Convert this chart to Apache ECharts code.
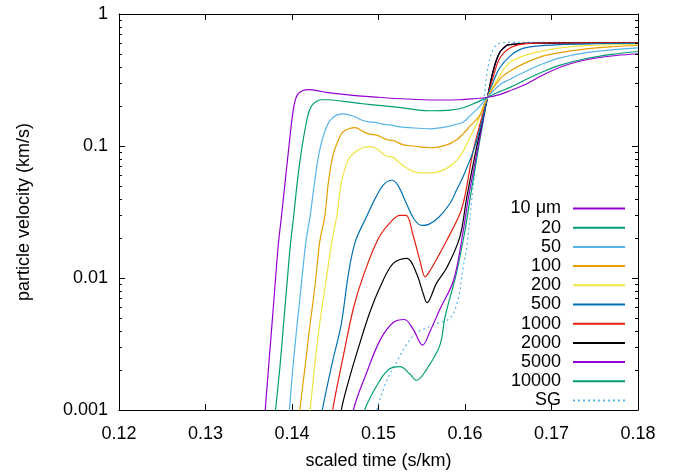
<!DOCTYPE html>
<html>
<head>
<meta charset="utf-8">
<script src="https://cdn.jsdelivr.net/npm/echarts@6/dist/echarts.min.js"></script>
<style>html,body{margin:0;padding:0;background:#fff;}#c{width:699px;height:475px;}</style>
</head>
<body>
<div id="c"></div>
<script>
// ---- data: [scaled time (s/km), particle velocity (km/s)] ----
const names = ['10 \u03bcm', '20', '50', '100', '200', '500', '1000', '2000', '5000', '10000', 'SG'];
const colors = ['#9400d3', '#009e73', '#56b4e9', '#e69f00', '#f0e442', '#0072b2', '#e51e10', '#000000', '#9400d3', '#009e73', '#56b4e9'];

const d10 = [[0.1364,0.0004],[0.1369,0.001],[0.1374,0.0026],[0.1379,0.0067],[0.1384,0.0174],[0.1388,0.030],[0.1392,0.053],[0.1396,0.093],[0.1400,0.160],[0.1403,0.212],[0.1406,0.243],[0.1410,0.258],[0.1415,0.266],[0.1420,0.267],[0.1430,0.262],[0.1440,0.255],[0.1460,0.246],[0.1480,0.239],[0.1500,0.234],[0.1520,0.229],[0.1544,0.225],[0.1570,0.223],[0.1594,0.224],[0.1610,0.228],[0.1626,0.234],[0.1640,0.245],[0.1652,0.262],[0.1671,0.295],[0.1690,0.345],[0.1710,0.395],[0.1730,0.435],[0.1750,0.462],[0.1775,0.485],[0.1800,0.500]];
const d20 = [[0.1377,0.0005],[0.1381,0.001],[0.1386,0.0021],[0.1390,0.0043],[0.1394,0.0087],[0.1398,0.0175],[0.1402,0.0296],[0.1406,0.0526],[0.1411,0.093],[0.1417,0.156],[0.1420,0.185],[0.1423,0.203],[0.1428,0.217],[0.1433,0.224],[0.1440,0.224],[0.1459,0.218],[0.1482,0.209],[0.1500,0.203],[0.1521,0.197],[0.1544,0.188],[0.1560,0.185],[0.1583,0.187],[0.1598,0.195],[0.1612,0.212],[0.1626,0.234],[0.1640,0.258],[0.1652,0.278],[0.1671,0.320],[0.1690,0.365],[0.1710,0.410],[0.1740,0.460],[0.1770,0.495],[0.1800,0.520]];
const d50 = [[0.1393,0.0005],[0.1397,0.001],[0.1401,0.0021],[0.1406,0.0045],[0.1411,0.0092],[0.1416,0.0187],[0.1421,0.0296],[0.1426,0.0526],[0.1432,0.093],[0.1440,0.140],[0.1448,0.166],[0.1459,0.175],[0.1471,0.168],[0.1482,0.156],[0.1490,0.152],[0.1496,0.151],[0.1502,0.148],[0.1509,0.145],[0.1515,0.144],[0.1521,0.141],[0.1540,0.137],[0.1560,0.135],[0.1579,0.140],[0.1598,0.152],[0.1606,0.170],[0.1614,0.190],[0.1626,0.234],[0.1640,0.290],[0.1652,0.320],[0.1671,0.370],[0.1690,0.420],[0.1710,0.465],[0.1740,0.510],[0.1770,0.535],[0.1800,0.553]];
const d100 = [[0.1404,0.0005],[0.1409,0.001],[0.1415,0.0021],[0.1421,0.0045],[0.1427,0.0092],[0.1432,0.0187],[0.1438,0.0296],[0.1442,0.0526],[0.1447,0.083],[0.1452,0.105],[0.1459,0.128],[0.1467,0.136],[0.1473,0.138],[0.1482,0.129],[0.1490,0.123],[0.1498,0.121],[0.1509,0.112],[0.1517,0.110],[0.1529,0.102],[0.1540,0.100],[0.1560,0.097],[0.1579,0.102],[0.1590,0.111],[0.1598,0.124],[0.1606,0.142],[0.1617,0.170],[0.1626,0.234],[0.1640,0.320],[0.1652,0.370],[0.1671,0.430],[0.1690,0.480],[0.1710,0.510],[0.1740,0.545],[0.1770,0.565],[0.1800,0.577]];
const d200 = [[0.1416,0.0005],[0.1421,0.001],[0.1426,0.0021],[0.1432,0.0045],[0.1439,0.0092],[0.1446,0.0187],[0.1452,0.030],[0.1457,0.0526],[0.1465,0.0785],[0.1472,0.089],[0.1482,0.097],[0.1490,0.099],[0.1496,0.097],[0.1502,0.091],[0.1509,0.084],[0.1517,0.082],[0.1525,0.074],[0.1536,0.066],[0.1548,0.0625],[0.1560,0.0625],[0.1579,0.068],[0.1594,0.083],[0.1606,0.117],[0.1614,0.150],[0.1626,0.234],[0.1640,0.340],[0.1652,0.430],[0.1671,0.490],[0.1690,0.525],[0.1710,0.553],[0.1740,0.575],[0.1800,0.590]];
const d500 = [[0.1429,0.0006],[0.1435,0.001],[0.1446,0.0022],[0.1457,0.0045],[0.1465,0.0105],[0.1473,0.0187],[0.1486,0.029],[0.1497,0.041],[0.1506,0.051],[0.1515,0.055],[0.1522,0.051],[0.1532,0.037],[0.1541,0.028],[0.1550,0.025],[0.1558,0.0255],[0.1570,0.029],[0.1583,0.037],[0.1590,0.046],[0.1598,0.059],[0.1610,0.093],[0.1621,0.166],[0.1626,0.234],[0.1633,0.310],[0.1640,0.390],[0.1652,0.480],[0.1664,0.540],[0.1680,0.568],[0.1710,0.586],[0.1750,0.595],[0.1800,0.600]];
const d1000 = [[0.1441,0.0005],[0.1447,0.001],[0.1459,0.0025],[0.1471,0.0059],[0.1482,0.0102],[0.1500,0.020],[0.1515,0.027],[0.1525,0.0298],[0.1532,0.0298],[0.1540,0.021],[0.1548,0.0135],[0.1554,0.0102],[0.1560,0.0115],[0.1570,0.015],[0.1579,0.0193],[0.1594,0.0305],[0.1600,0.042],[0.1610,0.095],[0.1626,0.234],[0.1633,0.340],[0.1640,0.460],[0.1652,0.553],[0.1671,0.596],[0.1700,0.603],[0.1800,0.605]];
const d2000 = [[0.1451,0.0005],[0.1457,0.001],[0.1468,0.0019],[0.1479,0.0033],[0.1490,0.0055],[0.1502,0.0086],[0.1517,0.0129],[0.1533,0.0141],[0.1544,0.0108],[0.1552,0.0075],[0.1556,0.0065],[0.1567,0.0091],[0.1579,0.012],[0.1594,0.0204],[0.1602,0.0406],[0.1613,0.095],[0.1626,0.234],[0.1633,0.380],[0.1640,0.510],[0.1648,0.577],[0.1652,0.586],[0.1670,0.600],[0.1800,0.605]];
const d5000 = [[0.1465,0.0005],[0.1471,0.001],[0.1486,0.0019],[0.1502,0.0034],[0.1517,0.0046],[0.1530,0.00485],[0.1540,0.0041],[0.1551,0.0031],[0.1560,0.0040],[0.1571,0.0058],[0.1587,0.0097],[0.1598,0.0229],[0.1604,0.0406],[0.1615,0.098],[0.1626,0.234],[0.1633,0.380],[0.1640,0.510],[0.1648,0.577],[0.1652,0.586],[0.1670,0.600],[0.1800,0.605]];
const d10000 = [[0.1478,0.0006],[0.1484,0.001],[0.1501,0.00165],[0.1513,0.00205],[0.1525,0.00213],[0.1536,0.00188],[0.1544,0.00168],[0.1556,0.00205],[0.1571,0.0031],[0.1577,0.0051],[0.1590,0.0108],[0.1600,0.0229],[0.1606,0.0406],[0.1616,0.100],[0.1626,0.234],[0.1633,0.380],[0.1640,0.510],[0.1648,0.577],[0.1652,0.586],[0.1670,0.600],[0.1800,0.605]];
const dSG = [[0.1492,0.0006],[0.1498,0.001],[0.1510,0.0017],[0.1521,0.0023],[0.1532,0.0031],[0.1544,0.00385],[0.1556,0.0042],[0.1567,0.0045],[0.1583,0.0050],[0.1592,0.0069],[0.1598,0.0122],[0.1602,0.0171],[0.1608,0.040],[0.1612,0.070],[0.1617,0.130],[0.1621,0.200],[0.1625,0.340],[0.1631,0.510],[0.1640,0.600],[0.1660,0.610],[0.1800,0.610]];

const seriesData = [d10, d20, d50, d100, d200, d500, d1000, d2000, d5000, d10000, dSG];
const xTicks = [0.12, 0.13, 0.14, 0.15, 0.16, 0.17, 0.18];
const yTickLabels = {'0.001': '0.001', '0.01': '0.01', '0.1': '0.1', '1': '1'};
// log-axis minor tick positions (2..9 x each decade)
const yMinorTicks = [0.002,0.003,0.004,0.005,0.006,0.007,0.008,0.009,
                     0.02,0.03,0.04,0.05,0.06,0.07,0.08,0.09,
                     0.2,0.3,0.4,0.5,0.6,0.7,0.8,0.9];

const FONT = 'Liberation Sans, Arial, sans-serif';
const FS = 18;
const chart = echarts.init(document.getElementById('c'), null, {renderer: 'canvas'});

const series = seriesData.map((d, i) => ({
  name: names[i],
  type: 'line',
  data: d,
  symbol: 'none',
  showSymbol: false,
  smooth: 0.35,
  clip: true,
  lineStyle: {color: colors[i], width: 1.2, type: i === 10 ? [2, 3] : 'solid'},
  itemStyle: {color: colors[i]},
  z: 2 + (10 - i)
}));

// minor ticks on the left and right borders, placed through the log axis
series.push({
  type: 'custom',
  name: 'minorTicks',
  silent: true,
  z: 20,
  data: yMinorTicks.map(v => [xTicks[0], v]),
  renderItem: function (params, api) {
    const v = api.value(1);
    const pL = api.coord([xTicks[0], v]);
    const pR = api.coord([xTicks[xTicks.length - 1], v]);
    const y = Math.round(pL[1]) + 0.5;
    return {
      type: 'group',
      children: [
        {type: 'line', shape: {x1: pL[0], y1: y, x2: pL[0] + 3, y2: y}, style: {stroke: '#000', lineWidth: 1}},
        {type: 'line', shape: {x1: pR[0] - 3, y1: y, x2: pR[0], y2: y}, style: {stroke: '#000', lineWidth: 1}}
      ]
    };
  }
});

const xBase = {
  type: 'value', min: xTicks[0], max: xTicks[xTicks.length - 1], interval: 0.01,
  splitLine: {show: false},
  axisLine: {show: true, onZero: false, lineStyle: {color: '#000', width: 1}},
  axisTick: {show: true, inside: true, length: 6, lineStyle: {color: '#000'}}
};
const yBase = {
  type: 'log', logBase: 10, min: 0.001, max: 1,
  splitLine: {show: false},
  axisLine: {show: true, onZero: false, lineStyle: {color: '#000', width: 1}},
  axisTick: {show: true, inside: true, length: 6, lineStyle: {color: '#000'}},
  minorTick: {show: false}
};

chart.setOption({
  animation: false,
  backgroundColor: '#fff',
  grid: {left: 119, right: 61, top: 14, bottom: 60, containLabel: false},
  xAxis: [
    Object.assign({}, xBase, {
      position: 'bottom',
      name: 'scaled time (s/km)', nameLocation: 'middle', nameGap: 42,
      nameTextStyle: {fontFamily: FONT, fontSize: FS, color: '#000'},
      axisLabel: {show: true, margin: 15, fontFamily: FONT, fontSize: FS, color: '#000',
        formatter: v => v.toFixed(2)}
    }),
    Object.assign({}, xBase, {position: 'top', axisLabel: {show: false}})
  ],
  yAxis: [
    Object.assign({}, yBase, {
      position: 'left',
      name: 'particle velocity (km/s)', nameLocation: 'middle', nameGap: 86, nameRotate: 90,
      nameTextStyle: {fontFamily: FONT, fontSize: FS, color: '#000'},
      axisLabel: {show: true, margin: 11, fontFamily: FONT, fontSize: FS, color: '#000',
        formatter: v => yTickLabels[String(+v.toPrecision(3))] || ''}
    }),
    Object.assign({}, yBase, {position: 'right', axisLabel: {show: false}})
  ],
  legend: {
    data: names,
    orient: 'vertical',
    align: 'right',
    right: 68,
    top: 194,
    itemWidth: 52,
    itemHeight: 19,
    itemGap: 0.2,
    selectedMode: false,
    itemStyle: {opacity: 0},
    textStyle: {fontFamily: FONT, fontSize: FS, color: '#000', lineHeight: 19, padding: [0, 7, 0, 0]}
  },
  series: series
});
</script>
</body>
</html>
